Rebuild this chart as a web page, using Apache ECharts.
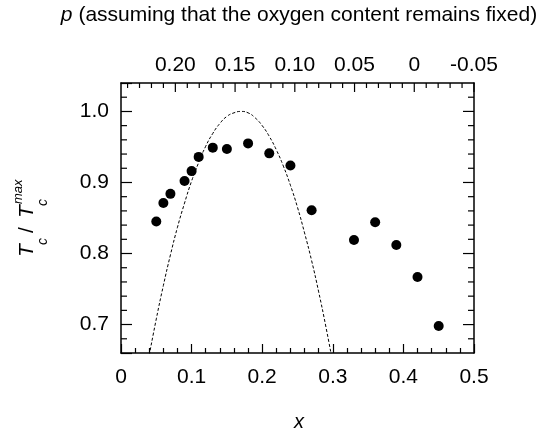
<!DOCTYPE html>
<html>
<head>
<meta charset="UTF-8">
<title>Tc / Tc max versus x</title>
<script src="https://cdn.jsdelivr.net/npm/echarts@6/dist/echarts.min.js"></script>
<style>
	html,body{margin:0;padding:0;background:#fff;}
	#chart{width:545px;height:432px;}
</style>
</head>
<body>
<div id="chart"></div>
<script>
	// measured points (x, Tc/Tcmax)
	var xValues = [0.05, 0.06, 0.07, 0.09, 0.10, 0.11, 0.13, 0.15, 0.18, 0.21, 0.24, 0.27, 0.33, 0.36, 0.39, 0.42, 0.45];
	var tcValues = [0.845, 0.871, 0.884, 0.902, 0.916, 0.936, 0.949, 0.947, 0.955, 0.941, 0.924, 0.861, 0.819, 0.844, 0.812, 0.767, 0.698];

	// dashed curve
	var curveX = [0.04, 0.05, 0.06, 0.07, 0.08, 0.09, 0.10, 0.11, 0.12, 0.13, 0.14, 0.15, 0.16, 0.17,
		0.18, 0.19, 0.20, 0.21, 0.22, 0.23, 0.24, 0.25, 0.26, 0.27, 0.28, 0.29, 0.30];
	var curveY = [0.657, 0.708, 0.755, 0.798, 0.837, 0.871, 0.902, 0.928, 0.951, 0.969, 0.983, 0.993, 0.998, 1.000,
		0.998, 0.991, 0.980, 0.965, 0.946, 0.923, 0.896, 0.865, 0.829, 0.790, 0.746, 0.698, 0.646];

	// axes
	var xRange = [0, 0.5];
	var yRange = [0.66, 1.04];
	var yTicks = [0.7, 0.8, 0.9, 1.0];
	var yMinorTicks = [0.68, 0.72, 0.74, 0.76, 0.78, 0.82, 0.84, 0.86, 0.88,
		0.92, 0.94, 0.96, 0.98, 1.02];
	var pRange = [-0.05, 0.2455];   // top axis: p at x = 0.5 and at x = 0
	var pTicks = [0.20, 0.15, 0.10, 0.05, 0, -0.05];
	var pMinorTicks = [0.24, 0.23, 0.22, 0.21, 0.19, 0.18, 0.17, 0.16, 0.14, 0.13, 0.12, 0.11,
		0.09, 0.08, 0.07, 0.06, 0.04, 0.03, 0.02, 0.01, -0.01, -0.02, -0.03, -0.04];

	var FONT = "'Liberation Sans', Arial, sans-serif";
	var frameLine = { color: '#000', width: 1.5 };
	var tickLine = { color: '#000', width: 1.2 };
	var MAJOR = 9, MINOR = 5;

	var scatterData = [], curveData = [];
	for (var i = 0; i < xValues.length; i++) scatterData.push([xValues[i], tcValues[i]]);
	for (var j = 0; j < curveX.length; j++) curveData.push([curveX[j], curveY[j]]);

	// inward ticks for the top, left-minor and right frame: [x, y, dx, dy]
	var pTickData = [], yTickData = [];
	pTicks.forEach(function(p) { pTickData.push([p, yRange[1], 0, MAJOR]); });
	pMinorTicks.forEach(function(p) { pTickData.push([p, yRange[1], 0, MINOR]); });
	yTicks.forEach(function(v) { yTickData.push([xRange[1], v, -(MAJOR + 2), 0]); });
	yMinorTicks.forEach(function(v) {
		yTickData.push([xRange[0], v, MINOR + 1, 0]);
		yTickData.push([xRange[1], v, -(MINOR + 1), 0]);
	});

	function renderTick(params, api) {
		var pt = api.coord([api.value(0), api.value(1)]);
		return {
			type: 'line',
			shape: { x1: pt[0], y1: pt[1], x2: pt[0] + api.value(2), y2: pt[1] + api.value(3) },
			style: { stroke: '#000', lineWidth: tickLine.width }
		};
	}

	var myChart = echarts.init(document.getElementById('chart'), null, { renderer: 'canvas' });

	var options = {
		animation: false,
		backgroundColor: '#fff',
		textStyle: { fontFamily: FONT },
		grid: { left: 121, right: 71, top: 83, bottom: 79, containLabel: false },
		graphic: [
			{
				type: 'text', x: 299, y: 15,
				style: {
					text: '{i|p} (assuming that the oxygen content remains fixed)',
					font: '21px ' + FONT, fill: '#000', align: 'center', verticalAlign: 'middle',
					rich: { i: { fontStyle: 'italic', fontSize: 21, fontFamily: FONT } }
				}
			},
			{
				type: 'text', x: 299, y: 422,
				style: { text: 'x', font: 'italic 20px ' + FONT, fill: '#000', align: 'center', verticalAlign: 'middle' }
			},
			{
				// rotated y label: T_c / T_c^max
				type: 'group', x: 34, y: 257, rotation: Math.PI / 2,
				children: [
					{ type: 'text', x: 0, y: -7, style: { text: 'T', font: 'italic 21px ' + FONT, fill: '#000', verticalAlign: 'middle' } },
					{ type: 'text', x: 12, y: 9, style: { text: 'c', font: 'italic 14px ' + FONT, fill: '#000', verticalAlign: 'middle' } },
					{ type: 'text', x: 24, y: -7, style: { text: '/', font: '21px ' + FONT, fill: '#000', verticalAlign: 'middle' } },
					{ type: 'text', x: 39, y: -7, style: { text: 'T', font: 'italic 21px ' + FONT, fill: '#000', verticalAlign: 'middle' } },
					{ type: 'text', x: 51, y: 9, style: { text: 'c', font: 'italic 14px ' + FONT, fill: '#000', verticalAlign: 'middle' } },
					{ type: 'text', x: 53, y: -16, style: { text: 'max', font: 'italic 13px ' + FONT, fill: '#000', verticalAlign: 'middle' } }
				]
			}
		],
		xAxis: [
			{
				type: 'value', position: 'bottom', min: xRange[0], max: xRange[1], interval: 0.1,
				axisLine: { show: true, onZero: false, lineStyle: frameLine },
				axisTick: { show: true, inside: true, length: MAJOR, lineStyle: tickLine },
				minorTick: { show: true, splitNumber: 5, length: MINOR, lineStyle: tickLine },
				axisLabel: {
					fontSize: 21, color: '#000', margin: 14, fontFamily: FONT,
					formatter: function(v) { return v === 0 ? '0' : v.toFixed(1); }
				},
				splitLine: { show: false }, minorSplitLine: { show: false }
			},
			{
				// p, running backwards; min -0.05 is a multiple of the interval
				type: 'value', position: 'top', inverse: true, min: pRange[0], max: pRange[1], interval: 0.05,
				axisLine: { show: true, onZero: false, lineStyle: frameLine },
				axisTick: { show: false },
				axisLabel: {
					fontSize: 21, color: '#000', margin: 7, fontFamily: FONT,
					formatter: function(v) {
						if (pTicks.indexOf(Math.round(v * 100) / 100) < 0 || Math.abs(v * 20 - Math.round(v * 20)) > 1e-6) return '';
						return Math.abs(v) < 1e-9 ? '0' : v.toFixed(2);
					}
				},
				splitLine: { show: false }
			}
		],
		yAxis: [
			{
				type: 'value', position: 'left', min: yRange[0], max: yRange[1], splitNumber: 4,
				axisLine: { show: true, onZero: false, lineStyle: frameLine },
				axisTick: { show: true, inside: true, length: MAJOR + 2, lineStyle: tickLine },
				axisLabel: {
					fontSize: 21, color: '#000', margin: 12, fontFamily: FONT,
					formatter: function(v) { return yTicks.indexOf(Math.round(v * 10) / 10) >= 0 && Math.abs(v * 10 - Math.round(v * 10)) < 1e-6 ? v.toFixed(1) : ''; }
				},
				splitLine: { show: false }
			},
			{
				type: 'value', position: 'right', min: yRange[0], max: yRange[1],
				axisLine: { show: true, onZero: false, lineStyle: frameLine },
				axisTick: { show: false },
				axisLabel: { show: false },
				splitLine: { show: false }
			}
		],
		series: [
			{
				type: 'line', xAxisIndex: 0, yAxisIndex: 0, data: curveData,
				showSymbol: false, smooth: true, clip: true, silent: true,
				lineStyle: { color: '#000', width: 1, type: [3, 2] }
			},
			{
				type: 'scatter', xAxisIndex: 0, yAxisIndex: 0, data: scatterData,
				symbol: 'circle', symbolSize: 10, itemStyle: { color: '#000', opacity: 1 }
			},
			{
				// top ticks placed on the p scale
				type: 'custom', xAxisIndex: 1, yAxisIndex: 0, data: pTickData,
				renderItem: renderTick, clip: false, silent: true, z: 5
			},
			{
				// minor ticks left, all ticks right
				type: 'custom', xAxisIndex: 0, yAxisIndex: 0, data: yTickData,
				renderItem: renderTick, clip: false, silent: true, z: 5
			}
		]
	};
	myChart.setOption(options);
</script>
</body>
</html>
